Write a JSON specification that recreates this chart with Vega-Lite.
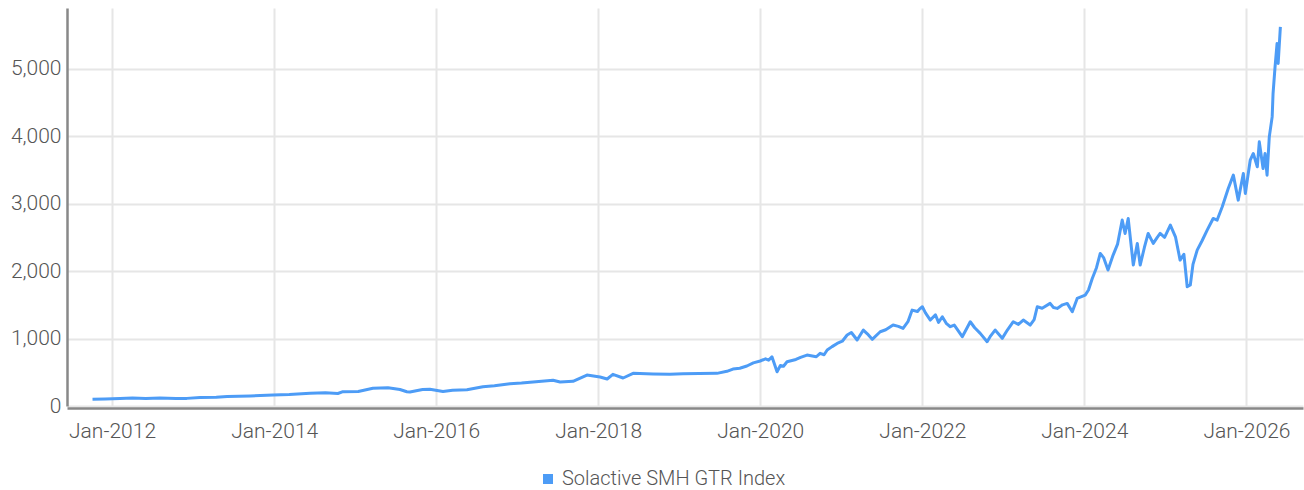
{
  "$schema": "https://vega.github.io/schema/vega-lite/v6.json",
  "autosize": "none",
  "width": 1236,
  "height": 398,
  "padding": {"left": 67, "top": 8, "right": 1, "bottom": 84},
  "background": "white",
  "config": {
    "view": {"stroke": null},
    "font": "Roboto",
    "axis": {"labelFont": "Roboto", "labelFontSize": 21, "labelColor": "#555555", "labelFontWeight": 300, "gridColor": "#e6e6e6", "gridWidth": 2, "domainColor": "#888888", "domainWidth": 2.5, "ticks": false, "title": null},
    "legend": {"labelFont": "Roboto", "labelFontSize": 20, "labelColor": "#555555", "labelFontWeight": 300, "labelLimit": 0}
  },
  "data": {"values": [
    {"date": "2011-10-05", "value": 100, "series": "Solactive SMH GTR Index"},
    {"date": "2011-12-01", "value": 104, "series": "Solactive SMH GTR Index"},
    {"date": "2012-02-06", "value": 112, "series": "Solactive SMH GTR Index"},
    {"date": "2012-04-02", "value": 118, "series": "Solactive SMH GTR Index"},
    {"date": "2012-06-01", "value": 110, "series": "Solactive SMH GTR Index"},
    {"date": "2012-08-04", "value": 118, "series": "Solactive SMH GTR Index"},
    {"date": "2012-10-15", "value": 112, "series": "Solactive SMH GTR Index"},
    {"date": "2012-12-03", "value": 113, "series": "Solactive SMH GTR Index"},
    {"date": "2013-02-01", "value": 125, "series": "Solactive SMH GTR Index"},
    {"date": "2013-04-15", "value": 128, "series": "Solactive SMH GTR Index"},
    {"date": "2013-06-03", "value": 140, "series": "Solactive SMH GTR Index"},
    {"date": "2013-09-15", "value": 150, "series": "Solactive SMH GTR Index"},
    {"date": "2013-12-27", "value": 163, "series": "Solactive SMH GTR Index"},
    {"date": "2014-03-10", "value": 170, "series": "Solactive SMH GTR Index"},
    {"date": "2014-06-12", "value": 188, "series": "Solactive SMH GTR Index"},
    {"date": "2014-08-20", "value": 195, "series": "Solactive SMH GTR Index"},
    {"date": "2014-10-15", "value": 185, "series": "Solactive SMH GTR Index"},
    {"date": "2014-11-07", "value": 212, "series": "Solactive SMH GTR Index"},
    {"date": "2015-01-15", "value": 215, "series": "Solactive SMH GTR Index"},
    {"date": "2015-03-22", "value": 262, "series": "Solactive SMH GTR Index"},
    {"date": "2015-05-29", "value": 271, "series": "Solactive SMH GTR Index"},
    {"date": "2015-07-22", "value": 245, "series": "Solactive SMH GTR Index"},
    {"date": "2015-08-22", "value": 212, "series": "Solactive SMH GTR Index"},
    {"date": "2015-09-05", "value": 207, "series": "Solactive SMH GTR Index"},
    {"date": "2015-11-01", "value": 245, "series": "Solactive SMH GTR Index"},
    {"date": "2015-12-04", "value": 247, "series": "Solactive SMH GTR Index"},
    {"date": "2016-02-01", "value": 215, "series": "Solactive SMH GTR Index"},
    {"date": "2016-03-15", "value": 235, "series": "Solactive SMH GTR Index"},
    {"date": "2016-05-19", "value": 241, "series": "Solactive SMH GTR Index"},
    {"date": "2016-07-30", "value": 286, "series": "Solactive SMH GTR Index"},
    {"date": "2016-09-20", "value": 300, "series": "Solactive SMH GTR Index"},
    {"date": "2016-11-29", "value": 330, "series": "Solactive SMH GTR Index"},
    {"date": "2017-01-20", "value": 340, "series": "Solactive SMH GTR Index"},
    {"date": "2017-03-13", "value": 356, "series": "Solactive SMH GTR Index"},
    {"date": "2017-06-11", "value": 381, "series": "Solactive SMH GTR Index"},
    {"date": "2017-07-13", "value": 356, "series": "Solactive SMH GTR Index"},
    {"date": "2017-09-09", "value": 366, "series": "Solactive SMH GTR Index"},
    {"date": "2017-11-11", "value": 459, "series": "Solactive SMH GTR Index"},
    {"date": "2018-01-09", "value": 430, "series": "Solactive SMH GTR Index"},
    {"date": "2018-02-10", "value": 400, "series": "Solactive SMH GTR Index"},
    {"date": "2018-03-08", "value": 470, "series": "Solactive SMH GTR Index"},
    {"date": "2018-04-23", "value": 415, "series": "Solactive SMH GTR Index"},
    {"date": "2018-06-07", "value": 484, "series": "Solactive SMH GTR Index"},
    {"date": "2018-09-05", "value": 474, "series": "Solactive SMH GTR Index"},
    {"date": "2018-11-20", "value": 470, "series": "Solactive SMH GTR Index"},
    {"date": "2019-01-18", "value": 479, "series": "Solactive SMH GTR Index"},
    {"date": "2019-04-01", "value": 482, "series": "Solactive SMH GTR Index"},
    {"date": "2019-06-20", "value": 484, "series": "Solactive SMH GTR Index"},
    {"date": "2019-08-04", "value": 514, "series": "Solactive SMH GTR Index"},
    {"date": "2019-08-31", "value": 548, "series": "Solactive SMH GTR Index"},
    {"date": "2019-10-01", "value": 560, "series": "Solactive SMH GTR Index"},
    {"date": "2019-11-02", "value": 593, "series": "Solactive SMH GTR Index"},
    {"date": "2019-12-01", "value": 640, "series": "Solactive SMH GTR Index"},
    {"date": "2020-01-01", "value": 667, "series": "Solactive SMH GTR Index"},
    {"date": "2020-01-25", "value": 700, "series": "Solactive SMH GTR Index"},
    {"date": "2020-02-08", "value": 680, "series": "Solactive SMH GTR Index"},
    {"date": "2020-02-23", "value": 730, "series": "Solactive SMH GTR Index"},
    {"date": "2020-03-17", "value": 508, "series": "Solactive SMH GTR Index"},
    {"date": "2020-04-01", "value": 600, "series": "Solactive SMH GTR Index"},
    {"date": "2020-04-15", "value": 590, "series": "Solactive SMH GTR Index"},
    {"date": "2020-05-01", "value": 656, "series": "Solactive SMH GTR Index"},
    {"date": "2020-06-10", "value": 690, "series": "Solactive SMH GTR Index"},
    {"date": "2020-07-01", "value": 720, "series": "Solactive SMH GTR Index"},
    {"date": "2020-07-30", "value": 755, "series": "Solactive SMH GTR Index"},
    {"date": "2020-09-10", "value": 730, "series": "Solactive SMH GTR Index"},
    {"date": "2020-09-27", "value": 780, "series": "Solactive SMH GTR Index"},
    {"date": "2020-10-15", "value": 760, "series": "Solactive SMH GTR Index"},
    {"date": "2020-10-29", "value": 830, "series": "Solactive SMH GTR Index"},
    {"date": "2020-11-20", "value": 880, "series": "Solactive SMH GTR Index"},
    {"date": "2020-12-13", "value": 928, "series": "Solactive SMH GTR Index"},
    {"date": "2021-01-05", "value": 960, "series": "Solactive SMH GTR Index"},
    {"date": "2021-01-27", "value": 1052, "series": "Solactive SMH GTR Index"},
    {"date": "2021-02-15", "value": 1090, "series": "Solactive SMH GTR Index"},
    {"date": "2021-03-13", "value": 978, "series": "Solactive SMH GTR Index"},
    {"date": "2021-04-10", "value": 1126, "series": "Solactive SMH GTR Index"},
    {"date": "2021-04-28", "value": 1070, "series": "Solactive SMH GTR Index"},
    {"date": "2021-05-20", "value": 988, "series": "Solactive SMH GTR Index"},
    {"date": "2021-06-25", "value": 1101, "series": "Solactive SMH GTR Index"},
    {"date": "2021-07-20", "value": 1130, "series": "Solactive SMH GTR Index"},
    {"date": "2021-08-22", "value": 1200, "series": "Solactive SMH GTR Index"},
    {"date": "2021-09-15", "value": 1180, "series": "Solactive SMH GTR Index"},
    {"date": "2021-10-06", "value": 1151, "series": "Solactive SMH GTR Index"},
    {"date": "2021-10-28", "value": 1250, "series": "Solactive SMH GTR Index"},
    {"date": "2021-11-16", "value": 1422, "series": "Solactive SMH GTR Index"},
    {"date": "2021-12-10", "value": 1400, "series": "Solactive SMH GTR Index"},
    {"date": "2021-12-20", "value": 1440, "series": "Solactive SMH GTR Index"},
    {"date": "2022-01-01", "value": 1471, "series": "Solactive SMH GTR Index"},
    {"date": "2022-01-15", "value": 1380, "series": "Solactive SMH GTR Index"},
    {"date": "2022-02-06", "value": 1274, "series": "Solactive SMH GTR Index"},
    {"date": "2022-03-01", "value": 1350, "series": "Solactive SMH GTR Index"},
    {"date": "2022-03-15", "value": 1240, "series": "Solactive SMH GTR Index"},
    {"date": "2022-04-01", "value": 1323, "series": "Solactive SMH GTR Index"},
    {"date": "2022-04-20", "value": 1220, "series": "Solactive SMH GTR Index"},
    {"date": "2022-05-07", "value": 1175, "series": "Solactive SMH GTR Index"},
    {"date": "2022-05-25", "value": 1200, "series": "Solactive SMH GTR Index"},
    {"date": "2022-06-30", "value": 1027, "series": "Solactive SMH GTR Index"},
    {"date": "2022-07-20", "value": 1150, "series": "Solactive SMH GTR Index"},
    {"date": "2022-08-05", "value": 1249, "series": "Solactive SMH GTR Index"},
    {"date": "2022-08-25", "value": 1160, "series": "Solactive SMH GTR Index"},
    {"date": "2022-09-19", "value": 1077, "series": "Solactive SMH GTR Index"},
    {"date": "2022-10-20", "value": 953, "series": "Solactive SMH GTR Index"},
    {"date": "2022-11-05", "value": 1040, "series": "Solactive SMH GTR Index"},
    {"date": "2022-11-25", "value": 1126, "series": "Solactive SMH GTR Index"},
    {"date": "2022-12-27", "value": 1003, "series": "Solactive SMH GTR Index"},
    {"date": "2023-01-20", "value": 1130, "series": "Solactive SMH GTR Index"},
    {"date": "2023-02-15", "value": 1249, "series": "Solactive SMH GTR Index"},
    {"date": "2023-03-10", "value": 1210, "series": "Solactive SMH GTR Index"},
    {"date": "2023-04-01", "value": 1274, "series": "Solactive SMH GTR Index"},
    {"date": "2023-05-02", "value": 1200, "series": "Solactive SMH GTR Index"},
    {"date": "2023-05-20", "value": 1280, "series": "Solactive SMH GTR Index"},
    {"date": "2023-06-03", "value": 1471, "series": "Solactive SMH GTR Index"},
    {"date": "2023-06-25", "value": 1450, "series": "Solactive SMH GTR Index"},
    {"date": "2023-07-31", "value": 1521, "series": "Solactive SMH GTR Index"},
    {"date": "2023-08-15", "value": 1460, "series": "Solactive SMH GTR Index"},
    {"date": "2023-09-01", "value": 1447, "series": "Solactive SMH GTR Index"},
    {"date": "2023-09-25", "value": 1500, "series": "Solactive SMH GTR Index"},
    {"date": "2023-10-16", "value": 1521, "series": "Solactive SMH GTR Index"},
    {"date": "2023-11-08", "value": 1397, "series": "Solactive SMH GTR Index"},
    {"date": "2023-11-30", "value": 1595, "series": "Solactive SMH GTR Index"},
    {"date": "2024-01-05", "value": 1644, "series": "Solactive SMH GTR Index"},
    {"date": "2024-01-20", "value": 1719, "series": "Solactive SMH GTR Index"},
    {"date": "2024-02-06", "value": 1891, "series": "Solactive SMH GTR Index"},
    {"date": "2024-02-25", "value": 2050, "series": "Solactive SMH GTR Index"},
    {"date": "2024-03-13", "value": 2262, "series": "Solactive SMH GTR Index"},
    {"date": "2024-03-28", "value": 2200, "series": "Solactive SMH GTR Index"},
    {"date": "2024-04-17", "value": 2015, "series": "Solactive SMH GTR Index"},
    {"date": "2024-05-10", "value": 2237, "series": "Solactive SMH GTR Index"},
    {"date": "2024-05-30", "value": 2400, "series": "Solactive SMH GTR Index"},
    {"date": "2024-06-20", "value": 2756, "series": "Solactive SMH GTR Index"},
    {"date": "2024-07-03", "value": 2558, "series": "Solactive SMH GTR Index"},
    {"date": "2024-07-17", "value": 2780, "series": "Solactive SMH GTR Index"},
    {"date": "2024-08-09", "value": 2089, "series": "Solactive SMH GTR Index"},
    {"date": "2024-08-27", "value": 2410, "series": "Solactive SMH GTR Index"},
    {"date": "2024-09-09", "value": 2089, "series": "Solactive SMH GTR Index"},
    {"date": "2024-09-28", "value": 2350, "series": "Solactive SMH GTR Index"},
    {"date": "2024-10-15", "value": 2558, "series": "Solactive SMH GTR Index"},
    {"date": "2024-11-07", "value": 2410, "series": "Solactive SMH GTR Index"},
    {"date": "2024-11-25", "value": 2500, "series": "Solactive SMH GTR Index"},
    {"date": "2024-12-08", "value": 2558, "series": "Solactive SMH GTR Index"},
    {"date": "2024-12-28", "value": 2500, "series": "Solactive SMH GTR Index"},
    {"date": "2025-01-23", "value": 2681, "series": "Solactive SMH GTR Index"},
    {"date": "2025-02-15", "value": 2508, "series": "Solactive SMH GTR Index"},
    {"date": "2025-03-08", "value": 2163, "series": "Solactive SMH GTR Index"},
    {"date": "2025-03-25", "value": 2250, "series": "Solactive SMH GTR Index"},
    {"date": "2025-04-09", "value": 1768, "series": "Solactive SMH GTR Index"},
    {"date": "2025-04-23", "value": 1793, "series": "Solactive SMH GTR Index"},
    {"date": "2025-05-05", "value": 2100, "series": "Solactive SMH GTR Index"},
    {"date": "2025-05-24", "value": 2311, "series": "Solactive SMH GTR Index"},
    {"date": "2025-06-15", "value": 2450, "series": "Solactive SMH GTR Index"},
    {"date": "2025-07-08", "value": 2607, "series": "Solactive SMH GTR Index"},
    {"date": "2025-08-04", "value": 2780, "series": "Solactive SMH GTR Index"},
    {"date": "2025-08-22", "value": 2756, "series": "Solactive SMH GTR Index"},
    {"date": "2025-09-14", "value": 2953, "series": "Solactive SMH GTR Index"},
    {"date": "2025-10-11", "value": 3225, "series": "Solactive SMH GTR Index"},
    {"date": "2025-11-03", "value": 3422, "series": "Solactive SMH GTR Index"},
    {"date": "2025-11-25", "value": 3052, "series": "Solactive SMH GTR Index"},
    {"date": "2025-12-18", "value": 3447, "series": "Solactive SMH GTR Index"},
    {"date": "2025-12-27", "value": 3151, "series": "Solactive SMH GTR Index"},
    {"date": "2026-01-18", "value": 3644, "series": "Solactive SMH GTR Index"},
    {"date": "2026-02-01", "value": 3743, "series": "Solactive SMH GTR Index"},
    {"date": "2026-02-19", "value": 3546, "series": "Solactive SMH GTR Index"},
    {"date": "2026-02-28", "value": 3916, "series": "Solactive SMH GTR Index"},
    {"date": "2026-03-17", "value": 3521, "series": "Solactive SMH GTR Index"},
    {"date": "2026-03-26", "value": 3743, "series": "Solactive SMH GTR Index"},
    {"date": "2026-04-04", "value": 3422, "series": "Solactive SMH GTR Index"},
    {"date": "2026-04-14", "value": 3990, "series": "Solactive SMH GTR Index"},
    {"date": "2026-04-27", "value": 4286, "series": "Solactive SMH GTR Index"},
    {"date": "2026-05-01", "value": 4632, "series": "Solactive SMH GTR Index"},
    {"date": "2026-05-10", "value": 5027, "series": "Solactive SMH GTR Index"},
    {"date": "2026-05-19", "value": 5373, "series": "Solactive SMH GTR Index"},
    {"date": "2026-05-24", "value": 5077, "series": "Solactive SMH GTR Index"},
    {"date": "2026-06-03", "value": 5620, "series": "Solactive SMH GTR Index"}
  ]},
  "mark": {"type": "line", "strokeWidth": 3, "strokeJoin": "round"},
  "encoding": {
    "x": {
      "field": "date", "type": "temporal",
      "scale": {"domain": [{"year": 2011, "month": 6, "date": 12}, {"year": 2026, "month": 9, "date": 13}]},
      "axis": {
        "values": [
          {"year": 2012, "month": 1, "date": 1}, {"year": 2014, "month": 1, "date": 1},
          {"year": 2016, "month": 1, "date": 1}, {"year": 2018, "month": 1, "date": 1},
          {"year": 2020, "month": 1, "date": 1}, {"year": 2022, "month": 1, "date": 1},
          {"year": 2024, "month": 1, "date": 1}, {"year": 2026, "month": 1, "date": 1}
        ],
        "format": "%b-%Y", "labelPadding": 12, "offset": 2, "labelFlush": false
      }
    },
    "y": {
      "field": "value", "type": "quantitative",
      "scale": {"domain": [0, 5900], "nice": false},
      "axis": {"values": [0, 1000, 2000, 3000, 4000, 5000], "format": ",d", "labelPadding": 6}
    },
    "color": {
      "field": "series", "type": "nominal",
      "scale": {"range": ["#4d9cf6"]},
      "legend": {"title": null, "orient": "none", "legendX": 471, "legendY": 461, "symbolType": "square", "symbolSize": 100, "symbolStrokeWidth": 0, "symbolFillColor": "#4d9cf6", "labelOffset": 4}
    }
  }
}
